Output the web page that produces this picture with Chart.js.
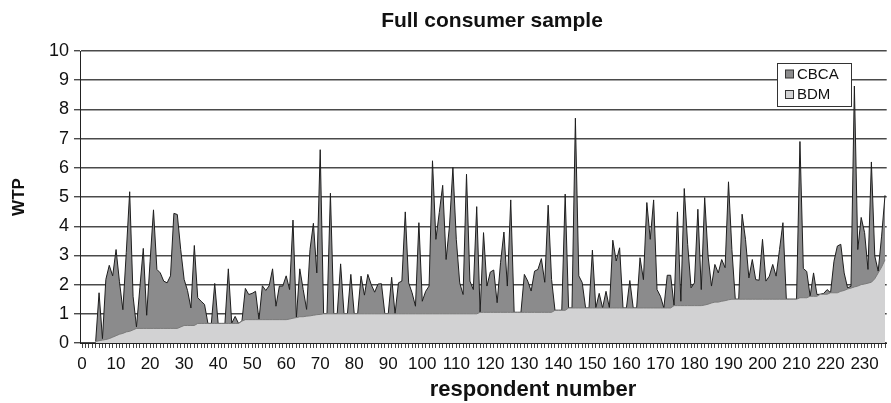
<!DOCTYPE html>
<html>
<head>
<meta charset="utf-8">
<script src="https://cdn.jsdelivr.net/npm/chart.js@4.4.1/dist/chart.umd.min.js"></script>
<style>
  html, body { margin: 0; padding: 0; background: #fff; }
  #wrap { width: 891px; height: 403px; }
</style>
</head>
<body>
<div id="wrap"><canvas id="wtpChart" width="891" height="403"></canvas></div>
<script>
// respondents 4 .. 236 (one value per respondent)
const firstRespondent = 4;

const cbca = [
  0.05, 1.72, 0.15, 2.18, 2.66, 2.3, 3.2, 2.1, 1.14, 3.1,
  5.18, 1.6, 0.55, 1.9, 3.24, 0.95, 2.8, 4.56, 2.52, 2.4,
  2.12, 2.06, 2.3, 4.44, 4.4, 3.2, 2.18, 1.8, 1.2, 3.34,
  1.55, 1.43, 1.32, 0.67, 0.67, 2.04, 0.67, 0.67, 0.67, 2.54,
  0.68, 0.91, 0.67, 0.75, 1.87, 1.66, 1.7, 1.77, 0.8, 1.96,
  1.8, 1.96, 2.54, 1.26, 1.95, 1.95, 2.3, 1.83, 4.21, 0.87,
  2.54, 1.83, 1.15, 3.2, 4.1, 2.4, 6.62, 1.0, 1.0, 5.13,
  1.0, 1.0, 2.71, 1.0, 1.0, 2.35, 1.0, 1.0, 2.29, 1.64,
  2.35, 2.0, 1.74, 2.02, 2.03, 1.0, 1.0, 2.25, 1.0, 2.06,
  2.12, 4.49, 2.06, 1.72, 1.26, 4.12, 1.43, 1.77, 1.95, 6.24,
  3.55, 4.47, 5.4, 2.86, 4.01, 6.01, 3.55, 2.06, 1.66, 5.78,
  2.12, 1.83, 4.67, 1.05, 3.78, 1.95, 2.43, 2.5, 1.38, 2.75,
  3.8, 1.95, 4.9, 1.05, 1.05, 1.05, 2.35, 2.12, 1.78, 2.46,
  2.52, 2.89, 2.08, 4.72, 2.18, 1.12, 1.12, 1.12, 5.1, 1.2,
  1.2, 7.7, 2.3, 2.07, 1.2, 1.2, 3.18, 1.2, 1.7, 1.2,
  1.77, 1.2, 3.52, 2.81, 3.26, 1.2, 1.2, 2.14, 1.2, 1.2,
  2.92, 2.17, 4.81, 3.55, 4.9, 1.83, 1.6, 1.2, 2.32, 2.32,
  1.28, 4.49, 1.43, 5.29, 3.38, 1.89, 2.06, 4.58, 1.83, 4.98,
  2.98, 1.95, 2.69, 2.4, 2.86, 2.58, 5.52, 3.2, 1.5, 1.5,
  4.41, 3.55, 2.23, 2.86, 2.17, 2.15, 3.55, 2.12, 2.29, 2.69,
  2.29, 3.2, 4.12, 1.5, 1.5, 1.5, 1.5, 6.9, 2.55, 2.45,
  1.6, 2.4, 1.66, 1.67, 1.7, 1.83, 1.72, 2.8, 3.32, 3.38,
  2.4, 1.89, 1.94, 8.8, 3.2, 4.3, 3.78, 2.52, 6.2, 2.98,
  2.46, 3.66, 5.06
];

const bdm = [
  0.05, 0.08, 0.1, 0.12, 0.15, 0.2, 0.25, 0.3, 0.33, 0.38,
  0.4, 0.45, 0.5, 0.5, 0.5, 0.5, 0.5, 0.5, 0.5, 0.5,
  0.5, 0.5, 0.5, 0.5, 0.5, 0.55, 0.6, 0.6, 0.6, 0.6,
  0.67, 0.67, 0.67, 0.67, 0.67, 0.67, 0.67, 0.67, 0.67, 0.67,
  0.67, 0.67, 0.67, 0.75, 0.8, 0.8, 0.8, 0.8, 0.8, 0.8,
  0.8, 0.8, 0.8, 0.8, 0.8, 0.8, 0.8, 0.82, 0.85, 0.87,
  0.9, 0.9, 0.92, 0.93, 0.95, 0.97, 0.98, 1.0, 1.0, 1.0,
  1.0, 1.0, 1.0, 1.0, 1.0, 1.0, 1.0, 1.0, 1.0, 1.0,
  1.0, 1.0, 1.0, 1.0, 1.0, 1.0, 1.0, 1.0, 1.0, 1.0,
  1.0, 1.0, 1.0, 1.0, 1.0, 1.0, 1.0, 1.0, 1.0, 1.0,
  1.0, 1.0, 1.0, 1.0, 1.0, 1.0, 1.0, 1.0, 1.0, 1.0,
  1.0, 1.0, 1.0, 1.05, 1.05, 1.05, 1.05, 1.05, 1.05, 1.05,
  1.05, 1.05, 1.05, 1.05, 1.05, 1.05, 1.05, 1.05, 1.05, 1.05,
  1.05, 1.05, 1.05, 1.05, 1.05, 1.12, 1.12, 1.12, 1.12, 1.2,
  1.2, 1.2, 1.2, 1.2, 1.2, 1.2, 1.2, 1.2, 1.2, 1.2,
  1.2, 1.2, 1.2, 1.2, 1.2, 1.2, 1.2, 1.2, 1.2, 1.2,
  1.2, 1.2, 1.2, 1.2, 1.2, 1.2, 1.2, 1.2, 1.2, 1.2,
  1.28, 1.28, 1.28, 1.28, 1.28, 1.28, 1.28, 1.28, 1.28, 1.3,
  1.33, 1.37, 1.4, 1.4, 1.43, 1.45, 1.48, 1.5, 1.5, 1.5,
  1.5, 1.5, 1.5, 1.5, 1.5, 1.5, 1.5, 1.5, 1.5, 1.5,
  1.5, 1.5, 1.5, 1.5, 1.5, 1.5, 1.5, 1.55, 1.55, 1.55,
  1.6, 1.6, 1.6, 1.67, 1.67, 1.67, 1.72, 1.72, 1.72, 1.77,
  1.8, 1.85, 1.88, 1.92, 1.95, 2.0, 2.02, 2.05, 2.08, 2.2,
  2.4, 2.6, 2.85
];

const seriesNames = ['CBCA', 'BDM'];
const yTicks = [0, 1, 2, 3, 4, 5, 6, 7, 8, 9, 10];
const chartTitle = 'Full consumer sample';
const xTitle = 'respondent number';
const yTitle = 'WTP';

const FONT = '"Liberation Sans", Arial, Helvetica, sans-serif';

function toPoints(values) {
  return values.map((v, i) => ({ x: firstRespondent + i, y: v }));
}

// the figure is a crop of a wider chart, so both titles sit right of the visible centre
const titlesAndLegend = {
  id: 'titlesAndLegend',
  afterDraw(chart) {
    const c = chart.ctx;
    c.save();
    c.fillStyle = '#111';
    c.textAlign = 'center';
    c.textBaseline = 'middle';
    c.font = 'bold 21px ' + FONT;
    c.fillText(chartTitle, 492, 21);
    c.font = 'bold 22px ' + FONT;
    c.fillText(xTitle, 533, 390);
    c.restore();
  },
  afterDatasetsDraw(chart) {
    const c = chart.ctx;
    const ds = chart.data.datasets;
    const bx = 777.5, by = 63.5, bw = 74, bh = 43;
    c.save();
    c.fillStyle = '#fff';
    c.fillRect(bx, by, bw, bh);
    c.strokeStyle = '#333';
    c.lineWidth = 1;
    c.strokeRect(bx, by, bw, bh);
    c.font = '15px ' + FONT;
    c.textBaseline = 'middle';
    ds.forEach((d, i) => {
      const yy = by + 10.5 + i * 20.5;
      c.fillStyle = d.backgroundColor;
      c.fillRect(bx + 8, yy - 4, 8, 8);
      c.strokeStyle = '#333';
      c.strokeRect(bx + 8, yy - 4, 8, 8);
      c.fillStyle = '#111';
      c.fillText(d.label, bx + 19.5, yy + 0.5);
    });
    c.restore();
  }
};

const ctx = document.getElementById('wtpChart').getContext('2d');
const wtpChart = new Chart(ctx, {
  type: 'line',
  data: {
    datasets: [{
      label: seriesNames[0],
      data: toPoints(cbca),
      backgroundColor: '#8b8b8c',
      borderColor: '#1e1e1e',
      borderWidth: 1,
      fill: 'origin',
      pointRadius: 0,
      tension: 0,
      order: 2
    }, {
      label: seriesNames[1],
      data: toPoints(bdm),
      backgroundColor: '#d2d2d3',
      borderColor: '#7a7a7a',
      borderWidth: 1,
      fill: 'origin',
      pointRadius: 0,
      tension: 0,
      order: 1
    }]
  },
  options: {
    responsive: false,
    animation: false,
    devicePixelRatio: 1,
    layout: { padding: { top: 51, left: 0, right: 0, bottom: 0 } },
    plugins: {
      legend: { display: false },
      tooltip: { enabled: false },
      title: { display: false }
    },
    scales: {
      x: {
        type: 'linear',
        min: -0.6,
        max: 236.5,
        afterFit: s => { s.height = 60; },
        border: { display: true, color: '#222', width: 1 },
        grid: { drawOnChartArea: false, drawTicks: true, tickLength: 5, color: '#444' },
        ticks: {
          stepSize: 1,
          maxTicksLimit: 1000,
          includeBounds: false,
          autoSkip: false,
          maxRotation: 0,
          minRotation: 0,
          padding: 6,
          color: '#111',
          font: { family: FONT, size: 17 },
          callback: v => (v % 10 === 0 ? String(v) : '')
        },
        title: { display: false, text: xTitle }
      },
      y: {
        min: 0,
        max: 10,
        afterFit: s => { s.width = 80; },
        afterBuildTicks: s => { s.ticks = yTicks.map(v => ({ value: v })); },
        border: { display: true, color: '#222', width: 1 },
        grid: { color: '#4a4a4a', lineWidth: 1.4, tickLength: 6, drawTicks: true },
        ticks: {
          padding: 5,
          color: '#111',
          font: { family: FONT, size: 18 }
        },
        title: {
          display: true,
          text: yTitle,
          color: '#111',
          font: { family: FONT, size: 17, weight: 'bold' },
          padding: { top: 9, bottom: 0 }
        }
      }
    }
  },
  plugins: [titlesAndLegend]
});
</script>
</body>
</html>
